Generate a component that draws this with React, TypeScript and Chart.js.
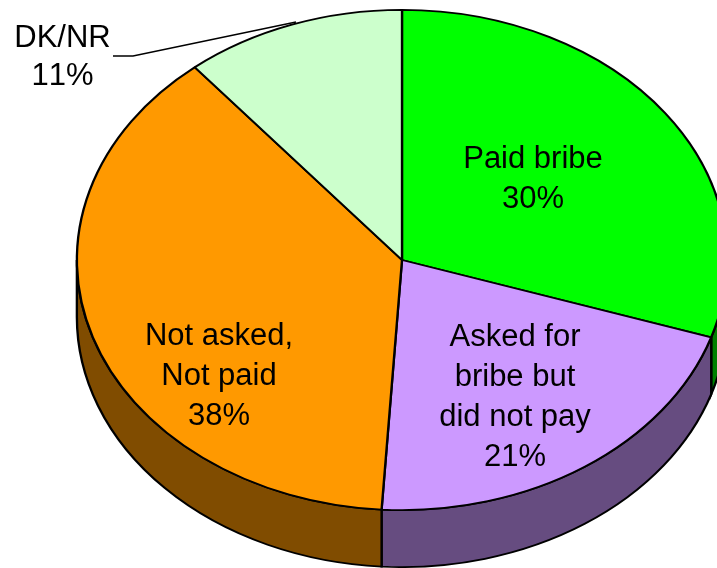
import React, { useEffect, useRef } from "react";
import { Chart, registerables } from "chart.js";

Chart.register(...registerables);

const categories = ["Paid bribe", "Asked for bribe but did not pay", "Not asked, Not paid", "DK/NR"];
const values = [30, 21, 38, 11];
const topColors = ["#00FF00", "#CC99FF", "#FF9900", "#CCFFCC"];
const sideColors = ["#008000", "#664C80", "#804C00", "#668066"];
const labelLines = [
  ["Paid bribe", "30%"],
  ["Asked for", "bribe but", "did not pay", "21%"],
  ["Not asked,", "Not paid", "38%"],
  ["DK/NR", "11%"],
];
const labelCentres = [
  { x: 533, y: 159, step: 40 },
  { x: 515, y: 337, step: 40 },
  { x: 219, y: 336, step: 40 },
  { x: 62.5, y: 38, step: 38 },
];
const leaderLine = [
  { x: 113, y: 56 },
  { x: 133, y: 56 },
  { x: 296, y: 22 },
];
const TILT_X = 1.3;
const DEPTH = 57;

const pie3d = {
  id: "pie3d",
  beforeDatasetsDraw(chart: any) {
    const { ctx } = chart;
    const arcs = chart.getDatasetMeta(0).data;
    const { x: cx, y: cy } = arcs[0];
    ctx.save();
    ctx.translate(cx, cy);
    ctx.scale(TILT_X, 1);
    ctx.translate(-cx, -cy);
    arcs.forEach((arc: any, i: number) => {
      const s = Math.max(arc.startAngle, 0);
      const e = Math.min(arc.endAngle, Math.PI);
      if (e <= s) return;
      const r = arc.outerRadius;
      ctx.beginPath();
      ctx.arc(cx, cy, r, s, e);
      ctx.arc(cx, cy + DEPTH, r, e, s, true);
      ctx.closePath();
      ctx.fillStyle = sideColors[i];
      ctx.fill();
      ctx.lineWidth = 1.8;
      ctx.strokeStyle = "#000";
      ctx.stroke();
    });
  },
  afterDatasetsDraw(chart: any) {
    chart.ctx.restore();
  },
  afterDraw(chart: any) {
    const { ctx } = chart;
    ctx.save();
    ctx.strokeStyle = "#000";
    ctx.lineWidth = 1.5;
    ctx.beginPath();
    leaderLine.forEach((p, i) => (i ? ctx.lineTo(p.x, p.y) : ctx.moveTo(p.x, p.y)));
    ctx.stroke();
    ctx.fillStyle = "#000";
    ctx.font = '31px "Liberation Sans", Arial, sans-serif';
    (ctx as any).fontKerning = "none";
    ctx.textAlign = "center";
    ctx.textBaseline = "middle";
    labelLines.forEach((lines, i) => {
      const c = labelCentres[i];
      lines.forEach((t, j) => ctx.fillText(t, c.x, c.y + j * c.step));
    });
    ctx.restore();
  },
};

export default function App() {
  const ref = useRef<HTMLCanvasElement>(null);
  useEffect(() => {
    const chart = new Chart(ref.current!, {
      type: "pie",
      data: {
        labels: categories,
        datasets: [
          {
            data: values,
            backgroundColor: topColors,
            borderColor: "#000",
            borderWidth: 1.8,
            clip: false,
          } as any,
        ],
      },
      options: {
        animation: false,
        responsive: false,
        events: [],
        layout: { padding: { left: 151, right: 64, top: 9, bottom: 57 } },
        plugins: { legend: { display: false }, tooltip: { enabled: false } },
      },
      plugins: [pie3d],
    });
    return () => chart.destroy();
  }, []);
  return (
    <canvas
      ref={ref}
      width={717}
      height={568}
      style={{ position: "absolute", left: 0, top: 0, background: "#fff" }}
    />
  );
}
